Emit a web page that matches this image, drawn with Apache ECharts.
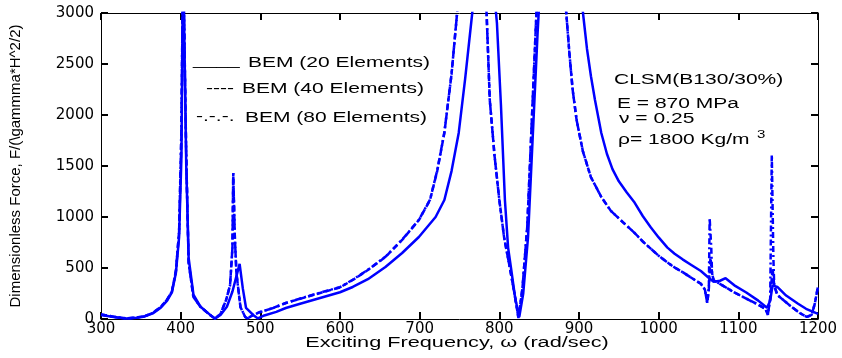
<!DOCTYPE html>
<html>
<head>
<meta charset="utf-8">
<script src="https://cdn.jsdelivr.net/npm/echarts@6/dist/echarts.min.js"></script>
<style>
  html, body { margin: 0; padding: 0; background: #fff; }
  #chart { width: 842px; height: 358px; }
</style>
</head>
<body>
<div id="chart"></div>
<script>
// frequency (rad/sec) vs dimensionless force
const bem20 = [
  [300, 40], [310, 28], [320, 15], [332, 5], [345, 12], [355, 25], [365, 55], [375, 110],
  [383, 180], [389, 260], [394, 450], [398, 800], [401, 1600], [403, 3600], [405, 3600],
  [407, 1500], [410, 600], [416, 240], [425, 120], [437, 40], [443, 5], [450, 40], [458, 120],
  [465, 270], [470, 420], [474, 540], [478, 300], [482, 110], [491, 40], [497, 5], [505, 35],
  [520, 70], [532, 108], [550, 150], [575, 206], [600, 262], [616, 314], [635, 390], [657, 510],
  [678, 647], [699, 804], [720, 1000], [731, 1167], [740, 1450], [749, 1824], [757, 2350],
  [766, 3000], [775, 3800], [782, 4000], [790, 3500], [797, 2900], [802, 2100], [807, 1167],
  [811, 700], [815, 480], [820, 200], [825, 20], [830, 250], [836, 800], [842, 1800],
  [848, 2800], [855, 3800], [880, 4500], [900, 3400], [905, 3000], [910, 2650], [915, 2380],
  [920, 2150], [928, 1824], [935, 1620], [942, 1470], [950, 1350], [960, 1240], [969, 1150],
  [980, 1010], [990, 900], [1000, 800], [1011, 700], [1020, 640], [1030, 585], [1040, 535],
  [1053, 470], [1062, 410], [1069, 365], [1077, 375], [1084, 400], [1095, 330], [1110, 260],
  [1125, 180], [1136, 110], [1140, 180], [1143, 330], [1149, 314], [1160, 230], [1175, 150],
  [1185, 100], [1194, 69], [1200, 50]
];

const bem40 = [
  [300, 45], [310, 30], [320, 17], [332, 6], [345, 14], [355, 28], [365, 60], [375, 118],
  [383, 190], [389, 270], [394, 470], [398, 850], [401, 1800], [403, 3600], [405, 3600],
  [407, 1600], [410, 550], [416, 216], [425, 118], [437, 39], [443, 3], [450, 50], [457, 186],
  [462, 330], [465, 700], [466, 1430], [468, 800], [470, 451], [475, 118], [481, 20], [484, 5],
  [491, 40], [500, 69], [515, 105], [532, 157], [555, 210], [575, 255], [600, 310], [616, 382],
  [635, 480], [657, 608], [678, 775], [699, 970], [713, 1167], [722, 1450], [731, 1824],
  [740, 2400], [747, 3000], [755, 3800], [765, 4200], [775, 3800], [784, 3000], [788, 2147],
  [794, 1600], [800, 1167], [806, 800], [813, 510], [819, 250], [824, 10], [829, 300],
  [835, 900], [840, 1800], [846, 2900], [852, 3800], [870, 4500], [884, 3000], [888, 2600],
  [892, 2250], [897, 1950], [905, 1640], [915, 1390], [928, 1196], [940, 1060], [955, 950],
  [969, 850], [980, 760], [990, 690], [1000, 620], [1011, 555], [1020, 505], [1030, 460],
  [1040, 410], [1053, 345], [1058, 290], [1061, 157], [1063, 300], [1065, 600], [1067, 450],
  [1069, 380], [1080, 330], [1095, 260], [1110, 200], [1125, 140], [1134, 100], [1137, 40],
  [1140, 200], [1143, 500], [1145, 330], [1149, 235], [1165, 130], [1177, 59], [1186, 20],
  [1192, 40], [1196, 150], [1200, 320]
];

const bem80 = [
  [300, 45], [310, 30], [320, 17], [332, 6], [345, 14], [355, 28], [365, 60], [375, 118],
  [383, 190], [389, 270], [394, 470], [398, 850], [401, 1900], [403, 3600], [405, 3600],
  [406, 2070], [407, 1600], [410, 550], [416, 216], [425, 118], [437, 39], [443, 3], [450, 50],
  [457, 186], [462, 330], [465, 700], [466, 1430], [468, 800], [470, 451], [475, 118],
  [481, 20], [484, 5], [491, 40], [500, 69], [515, 105], [532, 157], [555, 212], [575, 258],
  [600, 312], [616, 385], [635, 482], [657, 610], [678, 778], [699, 972], [713, 1170],
  [722, 1455], [731, 1830], [740, 2400], [747, 3000], [755, 3800], [765, 4200], [775, 3800],
  [784, 3000], [788, 2147], [794, 1600], [800, 1167], [806, 800], [813, 510], [819, 250],
  [824, 10], [829, 300], [835, 900], [840, 1800], [846, 2900], [852, 3800], [870, 4500],
  [884, 3000], [888, 2600], [892, 2250], [897, 1950], [905, 1640], [915, 1390], [928, 1196],
  [940, 1060], [955, 950], [969, 850], [980, 760], [990, 690], [1000, 620], [1011, 555],
  [1020, 505], [1030, 460], [1040, 410], [1053, 345], [1058, 290], [1061, 157], [1063, 300],
  [1064, 990], [1066, 700], [1067, 450], [1069, 380], [1080, 330], [1095, 260], [1110, 200],
  [1125, 140], [1134, 100], [1137, 40], [1140, 200], [1142, 1610], [1144, 600], [1145, 330],
  [1149, 235], [1165, 130], [1177, 59], [1186, 20], [1192, 40], [1196, 150], [1200, 320]
];

const xTicks = [300, 1200, 100];
const yTicks = [0, 3000, 500];

const legendRows = ['BEM (20 Elements)', 'BEM (40 Elements)', 'BEM (80 Elements)'];
const legendMarks = ['____', '----', '-.-.-.'];
const notes = ['CLSM(B130/30%)', 'E = 870 MPa', '\u03bd = 0.25', '\u03c1= 1800 Kg/m'];
const xTitle = 'Exciting Frequency, \u03c9 (rad/sec)';
const yTitle = 'Dimensionless Force, F/(\\gammma*H^2/2)';

const blue = '#0000ff';
const font = '"Liberation Sans", Arial, sans-serif';
const wide = '"DejaVu Sans", Verdana, sans-serif';

const chart = echarts.init(document.getElementById('chart'));

function axisX(position, showLabel) {
  return {
    type: 'value',
    position: position,
    min: xTicks[0],
    max: xTicks[1],
    interval: xTicks[2],
    axisLine: { show: true, onZero: false, lineStyle: { color: '#000' } },
    axisTick: { show: true, inside: true, length: 7, lineStyle: { color: '#000', width: 2 } },
    axisLabel: {
      show: showLabel, color: '#000', fontSize: 15, fontFamily: wide, margin: 3,
      formatter: (v) => String(v)
    },
    splitLine: { show: false }
  };
}

function axisY(position, showLabel) {
  return {
    type: 'value',
    position: position,
    min: yTicks[0],
    max: yTicks[1],
    interval: yTicks[2],
    axisLine: { show: true, onZero: false, lineStyle: { color: '#000' } },
    axisTick: { show: true, inside: true, length: 7, lineStyle: { color: '#000', width: 2 } },
    axisLabel: {
      show: showLabel, color: '#000', fontSize: 15, fontFamily: wide, margin: 7,
      formatter: (v) => String(v)
    },
    splitLine: { show: false }
  };
}

const yLeft = axisY('left', true);
yLeft.name = yTitle;
yLeft.nameLocation = 'middle';
yLeft.nameGap = 78;
yLeft.nameTextStyle = { color: '#000', fontSize: 15, fontFamily: font };

function line(name, data, type) {
  return {
    name: name,
    type: 'line',
    data: data,
    showSymbol: false,
    clip: true,
    lineStyle: { color: blue, width: 2.5, type: type }
  };
}

// stretched text, the figure's lettering is about 1.5x wider than normal
function label(text, x, y, size) {
  return {
    type: 'text', x: x, y: y, scaleX: 1.5, z: 10,
    style: { text: text, fill: '#000', font: (size || 14) + 'px ' + font, verticalAlign: 'middle' }
  };
}

chart.setOption({
  animation: false,
  backgroundColor: '#fff',
  grid: { left: 97, right: 24, top: 13, bottom: 39 },
  xAxis: [axisX('bottom', true), axisX('top', false)],
  yAxis: [yLeft, axisY('right', false)],
  series: [
    line(legendRows[0], bem20, 'solid'),
    line(legendRows[1], bem40, [6, 3]),
    line(legendRows[2], bem80, [6, 3, 2, 3])
  ],
  graphic: [
    label(legendMarks[0], 193, 61),
    label(legendRows[0], 248, 63),
    label(legendMarks[1], 206, 89),
    label(legendRows[1], 242, 89),
    label(legendMarks[2], 196, 117),
    label(legendRows[2], 245, 118),
    label(notes[0], 614, 80),
    label(notes[1], 617, 104),
    label(notes[2], 619, 119),
    label(notes[3], 618, 140),
    label('3', 757, 135, 10),
    {
      type: 'text', x: 457, y: 343, scaleX: 1.55, z: 10,
      style: { text: xTitle, fill: '#000', font: '14px ' + font, align: 'center', verticalAlign: 'middle' }
    }
  ]
});
</script>
</body>
</html>
